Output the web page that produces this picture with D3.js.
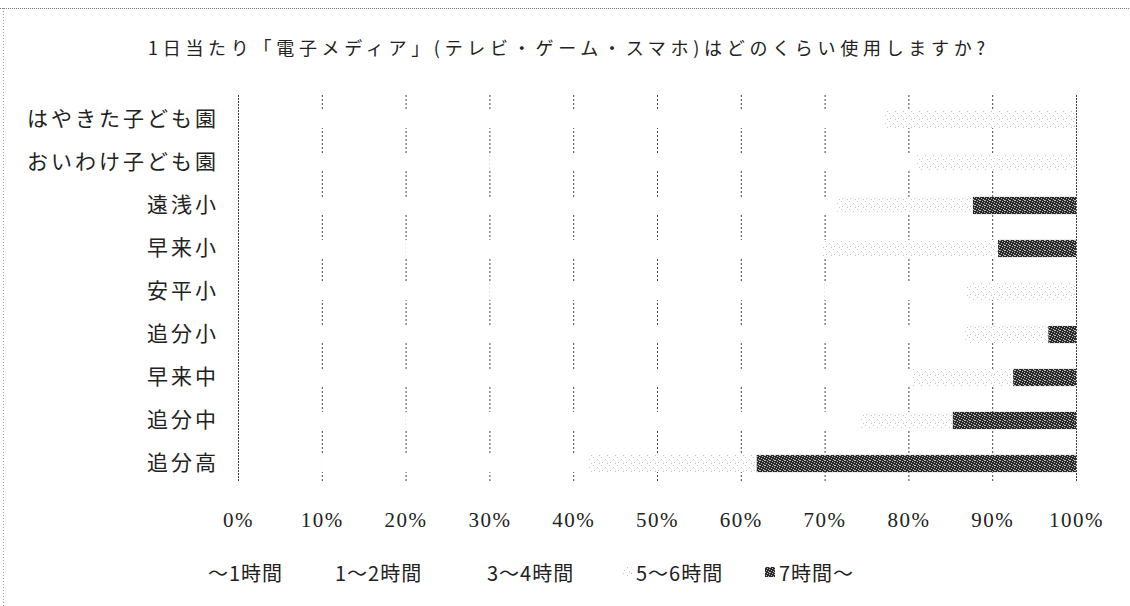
<!DOCTYPE html>
<html><head><meta charset="utf-8">
<script src="https://cdn.jsdelivr.net/npm/d3@7"></script>
<style>
html,body{margin:0;padding:0;background:#fff;}
svg{display:block;font-family:"Noto Sans CJK JP","Noto Sans",sans-serif;}
</style></head>
<body>
<svg id="c" width="1130" height="606"></svg>
<script>
const title = "1日当たり「電子メディア」(テレビ・ゲーム・スマホ)はどのくらい使用しますか?";
const categories = ["はやきた子ども園","おいわけ子ども園","遠浅小","早来小","安平小","追分小","早来中","追分中","追分高"];
const seriesNames = ["～1時間","1～2時間","3～4時間","5～6時間","7時間～"];
const upTo1h  = [27, 30, 15, 20, 30, 25, 22, 20, 10];
const h1to2   = [35, 36, 29.8, 29.8, 40, 35.7, 25.5, 24.3, 9.9];
const h3to4   = [15, 15, 26.7, 20, 17, 26, 33, 30, 22];
const h5to6   = [23, 19, 16.2, 20.9, 13, 10, 12, 11, 20];
const h7plus  = [0, 0, 12.3, 9.3, 0, 3.3, 7.5, 14.7, 38.1];
const tickValues = [0,10,20,30,40,50,60,70,80,90,100];
const tickLabels = ["0%","10%","20%","30%","40%","50%","60%","70%","80%","90%","100%"];

const seriesArrays = [upTo1h, h1to2, h3to4, h5to6, h7plus];
const rows = categories.map((c,i)=>{
  const o = {cat:c};
  seriesNames.forEach((s,j)=>{o[s]=seriesArrays[j][i];});
  return o;
});

const svg = d3.select("#c");
const defs = svg.append("defs");
// faint stipple for 5-6h
const p1 = defs.append("pattern").attr("id","p56").attr("width",8).attr("height",8).attr("patternUnits","userSpaceOnUse");
p1.append("rect").attr("width",8).attr("height",8).attr("fill","#fff");
[[1,1],[5,3],[2,6],[7,7]].forEach(d=>p1.append("rect").attr("x",d[0]).attr("y",d[1]).attr("width",1).attr("height",1).attr("fill","#c4c4c4"));
// dark stipple for 7h+
const p2 = defs.append("pattern").attr("id","p7").attr("width",5).attr("height",5).attr("patternUnits","userSpaceOnUse");
p2.append("rect").attr("width",5).attr("height",5).attr("fill","#2a2a2a");
[[0,0],[2,1],[4,2],[1,3],[3,4],[4,0]].forEach(d=>p2.append("rect").attr("x",d[0]).attr("y",d[1]).attr("width",1).attr("height",1).attr("fill","#bbb"));

const fills = ["#fff","#fff","#fff","url(#p56)","url(#p7)"];

const x = d3.scaleLinear().domain([0,100]).range([238,1076]);
const y = d3.scaleBand().domain(categories).range([98,485]).paddingInner(0.6).paddingOuter(0.3);

// border of scanned frame
svg.append("line").attr("x1",0).attr("x2",1130).attr("y1",8.5).attr("y2",8.5).attr("stroke","#777").attr("stroke-dasharray","1,1");
svg.append("line").attr("x1",3.5).attr("x2",3.5).attr("y1",8).attr("y2",606).attr("stroke","#999").attr("stroke-dasharray","1,2");

// title
svg.append("text").attr("x",148).attr("y",47).attr("dominant-baseline","central")
  .attr("font-size",18).attr("fill","#222").attr("textLength",837).attr("lengthAdjust","spacing").text(title);

// gridlines
svg.append("g").selectAll("line").data(tickValues.filter(v=>v>0&&v<100)).join("line")
  .attr("x1",d=>x(d)+0.5).attr("x2",d=>x(d)+0.5).attr("y1",95).attr("y2",482)
  .attr("stroke","#444").attr("stroke-dasharray","2,2");

// bars
const stack = d3.stack().keys(seriesNames)(rows);
svg.append("g").selectAll("g").data(stack).join("g")
  .attr("fill",(d,i)=>fills[i])
  .selectAll("rect").data(d=>d).join("rect")
  .attr("x",d=>x(d[0])).attr("width",d=>x(d[1])-x(d[0]))
  .attr("y",d=>y(d.data.cat)).attr("height",y.bandwidth());

// 0% and 100% lines on top
svg.append("g").selectAll("line").data([0,100]).join("line")
  .attr("x1",d=>x(d)+0.5).attr("x2",d=>x(d)+0.5).attr("y1",95).attr("y2",482)
  .attr("stroke","#444").attr("stroke-dasharray","2,1");

// y labels
svg.append("g").selectAll("text").data(categories).join("text")
  .attr("x",216+3).attr("y",d=>y(d)+y.bandwidth()/2-3)
  .attr("text-anchor","end").attr("dominant-baseline","central")
  .attr("font-size",21).attr("letter-spacing",3).attr("fill","#222").text(d=>d);

// x tick labels
const xAxis = d3.axisBottom(x).tickValues(tickValues).tickFormat((d,i)=>tickLabels[i]).tickSize(0);
const ax = svg.append("g").attr("transform","translate(0,510)").call(xAxis);
ax.select(".domain").remove();
ax.selectAll("text").attr("font-size",21).attr("letter-spacing",1.5).attr("fill","#222").attr("dy","0.35em").attr("y",10)
  .attr("font-family","'Liberation Serif','DejaVu Serif',serif");

// legend
const legX = [194, 321, 473, 622, 765];
const lg = svg.append("g").selectAll("g").data(seriesNames).join("g")
  .attr("transform",(d,i)=>`translate(${legX[i]},572)`);
lg.append("rect").attr("x",0).attr("y",-5).attr("width",10).attr("height",10).attr("fill",(d,i)=>fills[i]);
lg.append("text").attr("x",14).attr("y",0).attr("dominant-baseline","central")
  .attr("font-size",20).attr("letter-spacing",1).attr("fill","#222").text(d=>d);
</script>
</body></html>
